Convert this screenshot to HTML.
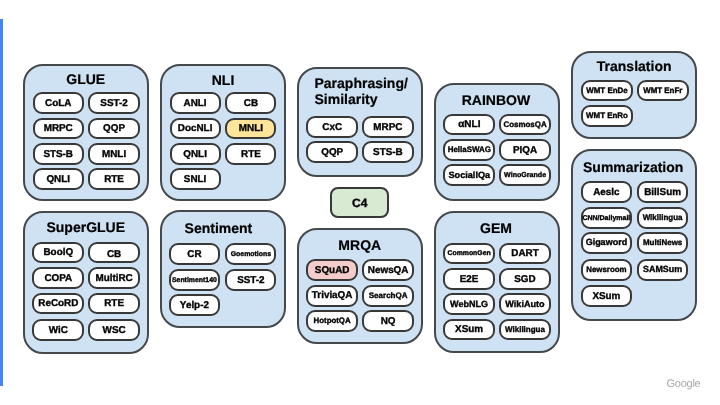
<!DOCTYPE html>
<html><head><meta charset="utf-8"><style>
html,body{margin:0;padding:0;}
body{will-change:transform;width:720px;height:405px;background:#fff;position:relative;overflow:hidden;font-family:"Liberation Sans",sans-serif;font-weight:bold;color:#000;text-rendering:geometricPrecision;}
.b{position:absolute;box-sizing:border-box;background:#cfe2f3;border:2.00px solid #46494c;border-radius:20px;}
.t{position:absolute;text-align:center;white-space:nowrap;-webkit-text-stroke:0.2px #000;}
.c{position:absolute;box-sizing:border-box;background:#fff;border:2.00px solid #383838;border-radius:9px;}
.l{position:absolute;text-align:center;white-space:nowrap;-webkit-text-stroke:0.35px #000;}
</style></head><body>
<div style="position:absolute;left:0;top:19px;width:2.8px;height:367px;background:#4285f4"></div>
<div class="b" style="left:22.50px;top:63.70px;width:126.50px;height:137.30px"></div>
<div class="t" style="left:22.50px;width:126.50px;top:71.10px;font-size:14.00px;line-height:16.10px">GLUE</div>
<div class="c" style="left:32.50px;top:92.40px;width:51.40px;height:21.80px;background:#ffffff"></div>
<div class="l" style="left:33.50px;width:49.40px;top:97.630px;font-size:9.90px;line-height:11.88px">CoLA</div>
<div class="c" style="left:88.40px;top:92.40px;width:51.40px;height:21.80px;background:#ffffff"></div>
<div class="l" style="left:89.40px;width:49.40px;top:97.630px;font-size:9.90px;line-height:11.88px">SST-2</div>
<div class="c" style="left:32.50px;top:117.70px;width:51.40px;height:21.80px;background:#ffffff"></div>
<div class="l" style="left:33.50px;width:49.40px;top:122.630px;font-size:9.90px;line-height:11.88px">MRPC</div>
<div class="c" style="left:88.40px;top:117.70px;width:51.40px;height:21.80px;background:#ffffff"></div>
<div class="l" style="left:89.40px;width:49.40px;top:122.630px;font-size:9.90px;line-height:11.88px">QQP</div>
<div class="c" style="left:32.50px;top:142.90px;width:51.40px;height:21.80px;background:#ffffff"></div>
<div class="l" style="left:33.50px;width:49.40px;top:148.630px;font-size:9.90px;line-height:11.88px">STS-B</div>
<div class="c" style="left:88.40px;top:142.90px;width:51.40px;height:21.80px;background:#ffffff"></div>
<div class="l" style="left:89.40px;width:49.40px;top:148.630px;font-size:9.90px;line-height:11.88px">MNLI</div>
<div class="c" style="left:32.50px;top:168.00px;width:51.40px;height:21.80px;background:#ffffff"></div>
<div class="l" style="left:33.50px;width:49.40px;top:173.630px;font-size:9.90px;line-height:11.88px">QNLI</div>
<div class="c" style="left:88.40px;top:168.00px;width:51.40px;height:21.80px;background:#ffffff"></div>
<div class="l" style="left:89.40px;width:49.40px;top:173.630px;font-size:9.90px;line-height:11.88px">RTE</div>
<div class="b" style="left:159.90px;top:63.70px;width:126.30px;height:137.30px"></div>
<div class="t" style="left:159.90px;width:126.30px;top:72.10px;font-size:14.00px;line-height:16.10px">NLI</div>
<div class="c" style="left:169.60px;top:92.20px;width:51.00px;height:21.80px;background:#ffffff"></div>
<div class="l" style="left:170.60px;width:49.00px;top:97.630px;font-size:9.90px;line-height:11.88px">ANLI</div>
<div class="c" style="left:225.40px;top:92.20px;width:51.00px;height:21.80px;background:#ffffff"></div>
<div class="l" style="left:226.40px;width:49.00px;top:97.630px;font-size:9.90px;line-height:11.88px">CB</div>
<div class="c" style="left:169.60px;top:117.70px;width:51.00px;height:21.80px;background:#ffffff"></div>
<div class="l" style="left:170.60px;width:49.00px;top:122.630px;font-size:9.90px;line-height:11.88px">DocNLI</div>
<div class="c" style="left:225.40px;top:117.70px;width:51.00px;height:21.80px;background:#ffe599"></div>
<div class="l" style="left:226.40px;width:49.00px;top:122.630px;font-size:9.90px;line-height:11.88px">MNLI</div>
<div class="c" style="left:169.60px;top:143.10px;width:51.00px;height:21.80px;background:#ffffff"></div>
<div class="l" style="left:170.60px;width:49.00px;top:148.630px;font-size:9.90px;line-height:11.88px">QNLI</div>
<div class="c" style="left:225.40px;top:143.10px;width:51.00px;height:21.80px;background:#ffffff"></div>
<div class="l" style="left:226.40px;width:49.00px;top:148.630px;font-size:9.90px;line-height:11.88px">RTE</div>
<div class="c" style="left:169.60px;top:168.30px;width:51.00px;height:21.80px;background:#ffffff"></div>
<div class="l" style="left:170.60px;width:49.00px;top:173.630px;font-size:9.90px;line-height:11.88px">SNLI</div>
<div class="b" style="left:297.00px;top:67.00px;width:126.10px;height:109.60px"></div>
<div class="t" style="left:314.50px;top:74.95px;font-size:14.00px;line-height:16.40px;text-align:left">Paraphrasing/<br>Similarity</div>
<div class="c" style="left:306.20px;top:116.30px;width:52.00px;height:21.90px;background:#ffffff"></div>
<div class="l" style="left:307.20px;width:50.00px;top:121.630px;font-size:9.90px;line-height:11.88px">CxC</div>
<div class="c" style="left:361.90px;top:116.30px;width:52.00px;height:21.90px;background:#ffffff"></div>
<div class="l" style="left:362.90px;width:50.00px;top:121.630px;font-size:9.90px;line-height:11.88px">MRPC</div>
<div class="c" style="left:306.20px;top:141.40px;width:52.00px;height:21.90px;background:#ffffff"></div>
<div class="l" style="left:307.20px;width:50.00px;top:146.630px;font-size:9.90px;line-height:11.88px">QQP</div>
<div class="c" style="left:361.90px;top:141.40px;width:52.00px;height:21.90px;background:#ffffff"></div>
<div class="l" style="left:362.90px;width:50.00px;top:146.630px;font-size:9.90px;line-height:11.88px">STS-B</div>
<div class="b" style="left:433.70px;top:83.20px;width:126.40px;height:117.40px"></div>
<div class="t" style="left:432.70px;width:126.40px;top:92.10px;font-size:14.00px;line-height:16.10px">RAINBOW</div>
<div class="c" style="left:443.30px;top:113.60px;width:52.00px;height:21.90px;background:#ffffff"></div>
<div class="l" style="left:444.30px;width:50.00px;top:118.535px;font-size:10.00px;line-height:12.00px">αNLI</div>
<div class="c" style="left:499.10px;top:113.60px;width:52.00px;height:21.90px;background:#ffffff"></div>
<div class="l" style="left:500.10px;width:50.00px;top:120.475px;font-size:7.95px;line-height:9.54px">CosmosQA</div>
<div class="c" style="left:443.30px;top:138.90px;width:52.00px;height:21.90px;background:#ffffff"></div>
<div class="l" style="left:444.30px;width:50.00px;top:145.475px;font-size:7.95px;line-height:9.54px">HellaSWAG</div>
<div class="c" style="left:499.10px;top:138.90px;width:52.00px;height:21.90px;background:#ffffff"></div>
<div class="l" style="left:500.10px;width:50.00px;top:144.630px;font-size:9.90px;line-height:11.88px">PIQA</div>
<div class="c" style="left:443.30px;top:164.20px;width:52.00px;height:21.90px;background:#ffffff"></div>
<div class="l" style="left:444.30px;width:50.00px;top:170.340px;font-size:9.15px;line-height:10.98px">SocialIQa</div>
<div class="c" style="left:499.10px;top:164.20px;width:52.00px;height:21.90px;background:#ffffff"></div>
<div class="l" style="left:500.10px;width:50.00px;top:171.280px;font-size:7.10px;line-height:8.52px">WinoGrande</div>
<div class="b" style="left:571.00px;top:51.10px;width:126.30px;height:87.90px"></div>
<div class="t" style="left:571.00px;width:126.30px;top:58.10px;font-size:14.00px;line-height:16.10px">Translation</div>
<div class="c" style="left:581.00px;top:79.70px;width:52.00px;height:21.60px;background:#ffffff"></div>
<div class="l" style="left:582.00px;width:50.00px;top:86.475px;font-size:7.95px;line-height:9.54px">WMT EnDe</div>
<div class="c" style="left:636.80px;top:79.70px;width:52.00px;height:21.60px;background:#ffffff"></div>
<div class="l" style="left:637.80px;width:50.00px;top:86.475px;font-size:7.95px;line-height:9.54px">WMT EnFr</div>
<div class="c" style="left:581.00px;top:105.20px;width:52.00px;height:21.60px;background:#ffffff"></div>
<div class="l" style="left:582.00px;width:50.00px;top:111.475px;font-size:7.95px;line-height:9.54px">WMT EnRo</div>
<div class="b" style="left:571.10px;top:149.10px;width:126.20px;height:172.30px"></div>
<div class="t" style="left:570.10px;width:126.20px;top:159.10px;font-size:14.00px;line-height:16.10px">Summarization</div>
<div class="c" style="left:580.60px;top:181.10px;width:51.60px;height:21.90px;background:#ffffff"></div>
<div class="l" style="left:581.60px;width:49.60px;top:186.630px;font-size:9.90px;line-height:11.88px">Aeslc</div>
<div class="c" style="left:636.80px;top:181.10px;width:51.60px;height:21.90px;background:#ffffff"></div>
<div class="l" style="left:637.80px;width:49.60px;top:186.630px;font-size:9.90px;line-height:11.88px">BillSum</div>
<div class="c" style="left:580.60px;top:206.90px;width:51.60px;height:21.90px;background:#ffffff"></div>
<div class="l" style="left:581.60px;width:49.60px;top:215.375px;font-size:7.00px;line-height:8.40px">CNN/Dailymail</div>
<div class="c" style="left:636.80px;top:206.90px;width:51.60px;height:21.90px;background:#ffffff"></div>
<div class="l" style="left:637.80px;width:49.60px;top:213.428px;font-size:8.00px;line-height:9.60px">Wikilingua</div>
<div class="c" style="left:580.60px;top:232.20px;width:51.60px;height:21.90px;background:#ffffff"></div>
<div class="l" style="left:581.60px;width:49.60px;top:237.482px;font-size:9.00px;line-height:10.80px">Gigaword</div>
<div class="c" style="left:636.80px;top:232.20px;width:51.60px;height:21.90px;background:#ffffff"></div>
<div class="l" style="left:637.80px;width:49.60px;top:238.475px;font-size:7.95px;line-height:9.54px">MultiNews</div>
<div class="c" style="left:580.60px;top:258.70px;width:51.60px;height:21.90px;background:#ffffff"></div>
<div class="l" style="left:581.60px;width:49.60px;top:264.523px;font-size:7.90px;line-height:9.48px">Newsroom</div>
<div class="c" style="left:636.80px;top:258.70px;width:51.60px;height:21.90px;background:#ffffff"></div>
<div class="l" style="left:637.80px;width:49.60px;top:263.529px;font-size:8.95px;line-height:10.74px">SAMSum</div>
<div class="c" style="left:580.60px;top:285.00px;width:51.60px;height:21.90px;background:#ffffff"></div>
<div class="l" style="left:581.60px;width:49.60px;top:290.630px;font-size:9.90px;line-height:11.88px">XSum</div>
<div class="b" style="left:22.50px;top:210.50px;width:126.50px;height:143.00px"></div>
<div class="t" style="left:22.50px;width:126.50px;top:219.10px;font-size:14.00px;line-height:16.10px">SuperGLUE</div>
<div class="c" style="left:32.30px;top:241.50px;width:52.00px;height:21.80px;background:#ffffff"></div>
<div class="l" style="left:33.30px;width:50.00px;top:246.630px;font-size:9.90px;line-height:11.88px">BoolQ</div>
<div class="c" style="left:88.10px;top:241.50px;width:52.00px;height:21.80px;background:#ffffff"></div>
<div class="l" style="left:89.10px;width:50.00px;top:248.630px;font-size:9.90px;line-height:11.88px">CB</div>
<div class="c" style="left:32.30px;top:267.00px;width:52.00px;height:21.80px;background:#ffffff"></div>
<div class="l" style="left:33.30px;width:50.00px;top:272.630px;font-size:9.90px;line-height:11.88px">COPA</div>
<div class="c" style="left:88.10px;top:267.00px;width:52.00px;height:21.80px;background:#ffffff"></div>
<div class="l" style="left:89.10px;width:50.00px;top:272.630px;font-size:9.90px;line-height:11.88px">MultiRC</div>
<div class="c" style="left:32.30px;top:292.50px;width:52.00px;height:21.80px;background:#ffffff"></div>
<div class="l" style="left:33.30px;width:50.00px;top:297.630px;font-size:9.90px;line-height:11.88px">ReCoRD</div>
<div class="c" style="left:88.10px;top:292.50px;width:52.00px;height:21.80px;background:#ffffff"></div>
<div class="l" style="left:89.10px;width:50.00px;top:297.630px;font-size:9.90px;line-height:11.88px">RTE</div>
<div class="c" style="left:32.30px;top:319.10px;width:52.00px;height:21.80px;background:#ffffff"></div>
<div class="l" style="left:33.30px;width:50.00px;top:324.630px;font-size:9.90px;line-height:11.88px">WiC</div>
<div class="c" style="left:88.10px;top:319.10px;width:52.00px;height:21.80px;background:#ffffff"></div>
<div class="l" style="left:89.10px;width:50.00px;top:324.630px;font-size:9.90px;line-height:11.88px">WSC</div>
<div class="b" style="left:160.00px;top:210.10px;width:126.30px;height:118.20px"></div>
<div class="t" style="left:155.30px;width:126.30px;top:220.10px;font-size:14.00px;line-height:16.10px">Sentiment</div>
<div class="c" style="left:168.80px;top:243.40px;width:51.20px;height:21.90px;background:#ffffff"></div>
<div class="l" style="left:169.80px;width:49.20px;top:248.630px;font-size:9.90px;line-height:11.88px">CR</div>
<div class="c" style="left:225.30px;top:243.40px;width:51.20px;height:21.90px;background:#ffffff"></div>
<div class="l" style="left:226.30px;width:49.20px;top:251.422px;font-size:6.95px;line-height:8.34px">Goemotions</div>
<div class="c" style="left:168.80px;top:268.70px;width:51.20px;height:21.90px;background:#ffffff"></div>
<div class="l" style="left:169.80px;width:49.20px;top:277.469px;font-size:6.90px;line-height:8.28px">Sentiment140</div>
<div class="c" style="left:225.30px;top:268.70px;width:51.20px;height:21.90px;background:#ffffff"></div>
<div class="l" style="left:226.30px;width:49.20px;top:274.630px;font-size:9.90px;line-height:11.88px">SST-2</div>
<div class="c" style="left:168.80px;top:293.90px;width:51.20px;height:21.90px;background:#ffffff"></div>
<div class="l" style="left:169.80px;width:49.20px;top:299.630px;font-size:9.90px;line-height:11.88px">Yelp-2</div>
<div class="b" style="left:296.50px;top:227.90px;width:126.50px;height:116.10px"></div>
<div class="t" style="left:296.50px;width:126.50px;top:237.10px;font-size:14.00px;line-height:16.10px">MRQA</div>
<div class="c" style="left:306.20px;top:259.30px;width:51.90px;height:22.00px;background:#f4cccc"></div>
<div class="l" style="left:307.20px;width:49.90px;top:264.630px;font-size:9.90px;line-height:11.88px">SQuAD</div>
<div class="c" style="left:362.20px;top:259.30px;width:51.90px;height:22.00px;background:#ffffff"></div>
<div class="l" style="left:363.20px;width:49.90px;top:264.630px;font-size:9.90px;line-height:11.88px">NewsQA</div>
<div class="c" style="left:306.20px;top:284.70px;width:51.90px;height:22.00px;background:#ffffff"></div>
<div class="l" style="left:307.20px;width:49.90px;top:289.630px;font-size:9.90px;line-height:11.88px">TriviaQA</div>
<div class="c" style="left:362.20px;top:284.70px;width:51.90px;height:22.00px;background:#ffffff"></div>
<div class="l" style="left:363.20px;width:49.90px;top:291.428px;font-size:8.00px;line-height:9.60px">SearchQA</div>
<div class="c" style="left:306.20px;top:309.90px;width:51.90px;height:22.00px;background:#ffffff"></div>
<div class="l" style="left:307.20px;width:49.90px;top:315.570px;font-size:7.85px;line-height:9.42px">HotpotQA</div>
<div class="c" style="left:362.20px;top:309.90px;width:51.90px;height:22.00px;background:#ffffff"></div>
<div class="l" style="left:363.20px;width:49.90px;top:315.630px;font-size:9.90px;line-height:11.88px">NQ</div>
<div class="b" style="left:433.60px;top:210.80px;width:126.50px;height:142.50px"></div>
<div class="t" style="left:432.80px;width:126.50px;top:220.10px;font-size:14.00px;line-height:16.10px">GEM</div>
<div class="c" style="left:442.80px;top:242.70px;width:52.60px;height:21.60px;background:#ffffff"></div>
<div class="l" style="left:443.80px;width:50.60px;top:250.469px;font-size:6.90px;line-height:8.28px">CommonGen</div>
<div class="c" style="left:498.70px;top:242.70px;width:52.60px;height:21.60px;background:#ffffff"></div>
<div class="l" style="left:499.70px;width:50.60px;top:247.630px;font-size:9.90px;line-height:11.88px">DART</div>
<div class="c" style="left:442.80px;top:268.40px;width:52.60px;height:21.60px;background:#ffffff"></div>
<div class="l" style="left:443.80px;width:50.60px;top:273.630px;font-size:9.90px;line-height:11.88px">E2E</div>
<div class="c" style="left:498.70px;top:268.40px;width:52.60px;height:21.60px;background:#ffffff"></div>
<div class="l" style="left:499.70px;width:50.60px;top:273.630px;font-size:9.90px;line-height:11.88px">SGD</div>
<div class="c" style="left:442.80px;top:293.00px;width:52.60px;height:21.60px;background:#ffffff"></div>
<div class="l" style="left:443.80px;width:50.60px;top:299.434px;font-size:9.05px;line-height:10.86px">WebNLG</div>
<div class="c" style="left:498.70px;top:293.00px;width:52.60px;height:21.60px;background:#ffffff"></div>
<div class="l" style="left:499.70px;width:50.60px;top:299.387px;font-size:9.10px;line-height:10.92px">WikiAuto</div>
<div class="c" style="left:442.80px;top:318.70px;width:52.60px;height:21.60px;background:#ffffff"></div>
<div class="l" style="left:443.80px;width:50.60px;top:323.630px;font-size:9.90px;line-height:11.88px">XSum</div>
<div class="c" style="left:498.70px;top:318.70px;width:52.60px;height:21.60px;background:#ffffff"></div>
<div class="l" style="left:499.70px;width:50.60px;top:325.428px;font-size:8.00px;line-height:9.60px">Wikilingua</div>
<div class="c" style="left:330.20px;top:186.50px;width:59.10px;height:31.10px;background:#d9ead3;border-radius:8px"></div>
<div class="l" style="left:331.20px;width:57.10px;top:195.642px;font-size:12.00px;line-height:14.40px">C4</div>
<div style="position:absolute;left:666.5px;top:377.5px;font-size:11px;font-weight:normal;color:#a3a7ab;letter-spacing:-0.25px">Google</div>
</body></html>
